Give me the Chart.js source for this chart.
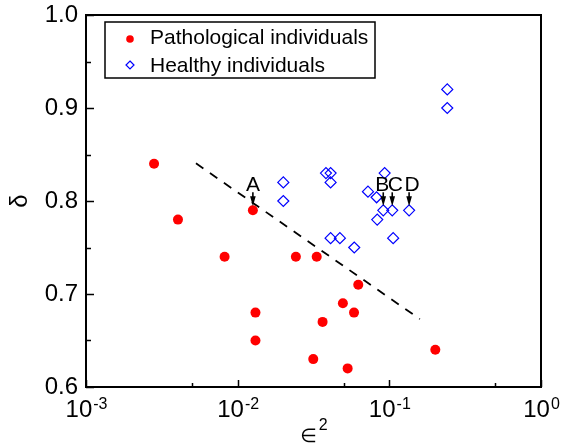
<!DOCTYPE html>
<html>
<head>
<meta charset="utf-8">
<script src="https://cdn.jsdelivr.net/npm/chart.js"></script>
<style>
  html, body { margin: 0; padding: 0; background: #fff; }
  #chart { display: block; }
</style>
</head>
<body>
<canvas id="chart" width="570" height="446"></canvas>
<script>
// epsilon^2 (x) and delta (y) for each group
const pathX = [0.00281, 0.0126, 0.00404, 0.0082, 0.0242, 0.0332, 0.0624, 0.0494, 0.0585, 0.0131, 0.0363, 0.0131, 0.0315, 0.0531, 0.201];
const pathY = [0.84, 0.79, 0.78, 0.74, 0.74, 0.74, 0.71, 0.69, 0.68, 0.68, 0.67, 0.65, 0.63, 0.62, 0.64];

const healthyX = [0.241, 0.241, 0.0200, 0.0200, 0.0382, 0.041, 0.041, 0.0931, 0.0723, 0.0824, 0.0912, 0.1045, 0.135, 0.0832, 0.041, 0.0472, 0.0587, 0.106];
const healthyY = [0.92, 0.90, 0.82, 0.80, 0.83, 0.83, 0.82, 0.83, 0.81, 0.804, 0.79, 0.79, 0.79, 0.78, 0.76, 0.76, 0.75, 0.76];

// dashed separating line (end points)
const lineX = [0.00531, 0.159];
const lineY = [0.8405, 0.673];

// labelled points
const annoLabels = ['A', 'B', 'C', 'D'];
const annoX = [0.0126, 0.0912, 0.1045, 0.135];
const annoY = [0.79, 0.79, 0.79, 0.79];

const xTickValues = [0.001, 0.01, 0.1, 1];
const xMinorValues = [0.005, 0.05, 0.5];
const yTickValues = [0.6, 0.7, 0.8, 0.9, 1.0];
const yMinorValues = [0.65, 0.75, 0.85, 0.95];

const seriesNames = ['Pathological individuals', 'Healthy individuals'];

const FONT = '"Liberation Sans", Arial, "DejaVu Sans", sans-serif';
const annoDx = [0, -1, 3, 3];

function toPoints(xs, ys) {
    return xs.map((x, i) => ({ x: x, y: ys[i] }));
}

const framePlugin = {
    id: 'frame',
    afterDraw(chart) {
        const ctx = chart.ctx;
        const area = chart.chartArea;
        const xs = chart.scales.x;
        const ys = chart.scales.y;
        ctx.save();

        // frame
        ctx.strokeStyle = '#000';
        ctx.lineWidth = 2;
        ctx.strokeRect(area.left, area.top, area.right - area.left, area.bottom - area.top);

        // inward ticks
        ctx.lineWidth = 1.5;
        ctx.beginPath();
        xTickValues.forEach(v => {
            const px = Math.round(xs.getPixelForValue(v)) + 0.5;
            ctx.moveTo(px, area.bottom);
            ctx.lineTo(px, area.bottom - 7);
        });
        xMinorValues.forEach(v => {
            const px = Math.round(xs.getPixelForValue(v)) + 0.5;
            ctx.moveTo(px, area.bottom);
            ctx.lineTo(px, area.bottom - 4);
        });
        yTickValues.forEach(v => {
            const py = Math.round(ys.getPixelForValue(v)) + 0.5;
            ctx.moveTo(area.left, py);
            ctx.lineTo(area.left + 8, py);
        });
        yMinorValues.forEach(v => {
            const py = Math.round(ys.getPixelForValue(v)) + 0.5;
            ctx.moveTo(area.left, py);
            ctx.lineTo(area.left + 5, py);
        });
        ctx.stroke();

        // x tick labels as 10^n
        ctx.fillStyle = '#000';
        ctx.textBaseline = 'alphabetic';
        ctx.textAlign = 'left';
        xTickValues.forEach(v => {
            const exp = String(Math.round(Math.log10(v)));
            ctx.font = '24px ' + FONT;
            const wBase = ctx.measureText('10').width;
            ctx.font = '16px ' + FONT;
            const wExp = ctx.measureText(exp).width;
            const px = xs.getPixelForValue(v);
            const x0 = px - (wBase + wExp) / 2;
            ctx.font = '24px ' + FONT;
            ctx.fillText('10', x0, area.bottom + 30);
            ctx.font = '16px ' + FONT;
            ctx.fillText(exp, x0 + wBase + 1, area.bottom + 22);
        });

        // x axis title
        const cx = (area.left + area.right) / 2;
        ctx.font = '19px ' + FONT;
        const wEps = ctx.measureText('\u2208').width;
        ctx.fillText('\u2208', cx - (wEps + 10) / 2, area.bottom + 55);
        ctx.font = '16px ' + FONT;
        ctx.fillText('2', cx - (wEps + 10) / 2 + wEps + 2, area.bottom + 43);

        // y axis title
        ctx.save();
        ctx.translate(20, (area.top + area.bottom) / 2);
        ctx.rotate(-Math.PI / 2);
        ctx.font = '24px ' + FONT;
        ctx.textAlign = 'center';
        ctx.textBaseline = 'middle';
        ctx.fillText('\u03b4', 0, 0);
        ctx.restore();

        // annotations with arrows
        ctx.font = '21px ' + FONT;
        ctx.textAlign = 'center';
        ctx.textBaseline = 'alphabetic';
        ctx.lineWidth = 1.6;
        annoLabels.forEach((lab, i) => {
            const px = xs.getPixelForValue(annoX[i]);
            const py = ys.getPixelForValue(annoY[i]);
            ctx.fillText(lab, px + annoDx[i], py - 19);
            ctx.beginPath();
            ctx.moveTo(px, py - 18);
            ctx.lineTo(px, py - 12);
            ctx.stroke();
            ctx.beginPath();
            ctx.moveTo(px - 2.8, py - 14);
            ctx.lineTo(px + 2.8, py - 14);
            ctx.lineTo(px, py - 4);
            ctx.closePath();
            ctx.fill();
        });

        // legend
        const lx = area.left + 19;
        const ly = area.top + 7;
        ctx.lineWidth = 1.5;
        ctx.strokeStyle = '#000';
        ctx.strokeRect(lx, ly, 270, 56);
        ctx.font = '21px ' + FONT;
        ctx.textAlign = 'left';
        ctx.textBaseline = 'middle';
        ctx.fillStyle = '#000';
        ctx.fillText(seriesNames[0], lx + 45, ly + 16);
        ctx.fillText(seriesNames[1], lx + 45, ly + 44);
        ctx.fillStyle = '#ff0000';
        ctx.beginPath();
        ctx.arc(lx + 25, ly + 17, 3.8, 0, Math.PI * 2);
        ctx.fill();
        ctx.strokeStyle = '#0000ff';
        ctx.lineWidth = 1.2;
        ctx.beginPath();
        ctx.moveTo(lx + 25, ly + 39);
        ctx.lineTo(lx + 29, ly + 43);
        ctx.lineTo(lx + 25, ly + 47);
        ctx.lineTo(lx + 21, ly + 43);
        ctx.closePath();
        ctx.stroke();

        ctx.restore();
    }
};

new Chart(document.getElementById('chart'), {
    type: 'scatter',
    data: {
        datasets: [
            {
                label: seriesNames[0],
                data: toPoints(pathX, pathY),
                pointStyle: 'circle',
                pointRadius: 5,
                backgroundColor: '#ff0000',
                borderColor: '#ff0000',
                borderWidth: 0
            },
            {
                label: seriesNames[1],
                data: toPoints(healthyX, healthyY),
                pointStyle: 'rectRot',
                pointRadius: 5.5,
                backgroundColor: 'rgba(255,255,255,0)',
                borderColor: '#0000ff',
                borderWidth: 1.2
            },
            {
                type: 'line',
                label: 'boundary',
                data: toPoints(lineX, lineY),
                showLine: true,
                pointRadius: 0,
                borderColor: '#000',
                borderWidth: 1.8,
                borderDash: [9, 8],
                fill: false
            }
        ]
    },
    options: {
        responsive: false,
        animation: false,
        devicePixelRatio: 1,
        layout: { padding: { top: 15, right: 29, left: 0, bottom: 0 } },
        plugins: {
            legend: { display: false },
            tooltip: { enabled: false }
        },
        scales: {
            x: {
                type: 'logarithmic',
                min: 0.001,
                max: 1,
                grid: { display: false },
                border: { display: false },
                ticks: { display: false },
                afterFit: scale => {
                    scale.height = 59;
                    scale.paddingLeft = 0;
                    scale.paddingRight = 0;
                }
            },
            y: {
                type: 'linear',
                min: 0.6,
                max: 1.0,
                grid: { display: false, drawTicks: false },
                border: { display: false },
                ticks: {
                    stepSize: 0.1,
                    padding: 8,
                    color: '#000',
                    font: { size: 24, family: FONT },
                    callback: v => v.toFixed(1)
                },
                afterFit: scale => {
                    scale.width = 86;
                    scale.paddingTop = 0;
                    scale.paddingBottom = 0;
                }
            }
        }
    },
    plugins: [framePlugin]
});
</script>
</body>
</html>
